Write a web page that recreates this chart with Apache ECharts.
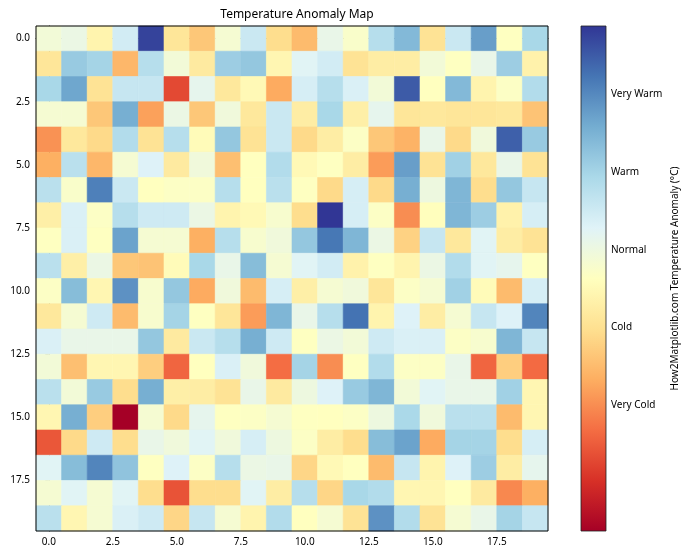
<!DOCTYPE html>
<html>
<head>
<meta charset="utf-8">
<script src="https://cdn.jsdelivr.net/npm/echarts@6/dist/echarts.min.js"></script>
<style>html,body{margin:0;padding:0;background:#fff}#c{width:700px;height:560px}</style>
</head>
<body>
<div id="c"></div>
<script>
// 20x20 anomaly grid, row 0 at top
const row0  = [-0.10, 0.05,-0.60, 0.45, 2.75,-0.90,-1.35,-0.15, 0.55,-1.05, -1.50, 0.10,-0.25, 0.80, 1.40,-0.95, 0.55, 1.75,-0.35, 0.95];
const row1  = [-0.90, 1.15, 1.00,-1.55, 0.80,-0.10,-0.80, 1.10, 1.20,-0.55,  0.25, 0.45,-0.95,-0.75,-0.75,-0.10,-0.35, 0.10, 1.10,-0.65];
const row2  = [ 0.95, 1.65,-0.95, 0.60, 0.60,-2.70, 0.15,-0.85,-0.50,-1.70,  0.40, 0.80, 0.35,-0.10, 2.50,-0.37, 1.40,-0.60,-0.30, 0.85];
const row3  = [-0.15,-0.15,-1.35, 1.55,-1.80, 0.05,-1.35,-0.05,-0.85, 0.55, -0.75, 0.95,-0.70, 0.15,-0.90,-0.85,-0.90,-0.90,-0.85,-1.40];
const row4  = [-1.95,-0.85,-1.10, 0.85,-0.95, 0.80,-0.45, 1.20,-0.95, 0.55, -1.10,-0.75,-0.30,-1.35,-1.60, 0.10,-1.10,-0.05, 2.45, 1.15];
const row5  = [-1.65, 0.75,-1.55,-0.15, 0.30,-0.80,-0.05,-1.45,-0.37, 0.85, -0.50,-0.35,-0.75,-1.85, 1.75,-0.95, 1.05,-0.85, 0.10,-0.95];
const row6  = [ 0.75,-0.25, 2.10, 0.55,-0.37,-0.30,-0.30, 0.80,-0.37, 0.75, -0.35,-1.10, 0.40,-1.10, 1.55, 0.00, 1.45,-1.05, 1.20, 0.60];
const row7  = [-0.70, 0.35,-0.30, 0.80, 0.50, 0.50, 0.05,-0.60,-0.50,-0.20, -1.05, 2.88, 0.40,-0.30,-2.00,-0.40, 1.45, 1.10,-0.65, 0.40];
const row8  = [-0.35, 0.35,-0.35, 1.70,-0.15,-0.15,-1.65, 0.80,-0.20,-0.05,  1.20, 2.20, 1.45, 0.05,-1.20, 0.60,-0.85, 0.25,-0.75,-0.95];
const row9  = [ 0.75,-0.70, 0.05,-1.35,-1.40,-0.45, 0.95, 0.10, 1.35,-0.15,  0.25, 0.45,-0.65,-0.35,-0.60, 0.05, 0.85, 0.25, 0.15,-0.35];
const row10 = [-0.30, 1.35,-0.55, 1.90,-0.20, 1.20,-1.70,-0.05,-1.50, 0.40, -0.70,-0.15,-0.05,-0.90,-0.30,-0.15, 1.05,-0.45,-1.50, 0.40];
const row11 = [-0.85,-0.15, 0.50,-1.50,-0.20, 1.00,-0.35,-0.90,-1.85, 1.45,  0.10, 0.80, 2.25,-0.60, 0.30,-0.75,-0.15, 0.60, 0.30, 2.05];
const row12 = [ 0.35, 0.10, 0.10, 0.10, 1.20,-0.80, 0.55, 0.80, 1.55, 0.50, -0.35, 0.05,-0.10, 0.50, 0.35, 0.35,-0.30,-0.20, 1.45, 0.60];
const row13 = [-0.10,-1.45,-0.55,-0.55,-1.25,-2.40,-0.37, 0.35,-0.05,-2.32,  1.00,-2.00,-0.35, 0.85,-0.30,-0.30, 0.10,-2.40,-1.25,-2.35];
const row14 = [ 0.75,-0.10, 1.15,-1.05, 1.55,-0.70,-0.75,-0.95, 0.10,-0.80,  0.00, 0.30, 1.15, 1.45,-0.10, 0.25, 0.10, 0.10, 1.05,-0.55];
const row15 = [-0.55, 1.55,-1.25,-3.62,-0.15,-1.10, 0.15,-0.35,-0.30,-0.15, -0.35,-0.37,-0.30, 0.00, 0.93,-0.05, 0.75, 0.75,-1.50,-0.55];
const row16 = [-2.55,-1.10, 0.50,-1.05, 0.10,-0.05, 0.25,-0.05, 0.40, 0.00, -0.30,-0.75,-1.05, 1.35, 1.70,-1.70, 1.00, 1.00,-1.05, 0.40];
const row17 = [ 0.25, 1.35, 2.05, 1.25,-0.35, 0.30,-0.30, 0.80, 0.05, 0.10, -1.15,-0.50,-0.37,-1.50, 0.60,-0.60, 0.30, 1.10,-0.75, 0.15];
const row18 = [-0.15, 0.25,-0.15, 0.25,-1.05,-2.60,-1.05,-1.05, 0.25,-0.75,  0.80,-1.15, 0.95, 0.85,-0.55,-0.55,-0.37,-0.80,-2.05,-1.65];
const row19 = [ 0.75,-0.55,-0.15, 0.35, 0.50,-1.15, 0.60,-0.15,-0.60, 0.85, -0.37,-0.15,-0.95, 1.90, 0.85,-0.95,-0.15, 0.10, 1.00, 0.60];
const ROWS = [row0,row1,row2,row3,row4,row5,row6,row7,row8,row9,row10,row11,row12,row13,row14,row15,row16,row17,row18,row19];

const AXIS_TICKS = [0, 2.5, 5, 7.5, 10, 12.5, 15, 17.5];
const CB_TICKS = [-2, -1, 0, 1, 2];
const CB_LABELS = ['Very Cold', 'Cold', 'Normal', 'Warm', 'Very Warm'];
const VMIN = -3.62, VMAX = 2.88;
const TITLE = 'Temperature Anomaly Map';
const CB_TITLE = 'How2Matplotlib.com Temperature Anomaly (°C)';

const RDYLBU = ['#a50026','#d73027','#f46d43','#fdae61','#fee090','#ffffbf','#e0f3f8','#abd9e9','#74add1','#4575b4','#313695'];

const cells = [];
ROWS.forEach((r, y) => r.forEach((v, x) => cells.push([x, y, v])));

const FONT = 'Noto Sans';
const chart = echarts.init(document.getElementById('c'), null, {renderer: 'canvas'});

const axisCommon = {
  type: 'value', min: -0.5, max: 19.5,
  splitLine: {show: false},
  axisLine: {show: true, lineStyle: {color: '#000', width: 1}},
  axisTick: {show: true, length: 3.5, lineStyle: {color: '#000', width: 0.8}, customValues: AXIS_TICKS},
  axisLabel: {color: '#000', fontSize: 10, fontFamily: FONT, margin: 6, customValues: AXIS_TICKS,
              formatter: v => Number(v).toFixed(1)}
};

chart.setOption({
  animation: false,
  backgroundColor: '#fff',
  title: {
    text: TITLE, left: 292, top: 4, textAlign: 'center',
    textStyle: {fontSize: 12, fontWeight: 'normal', color: '#000', fontFamily: FONT}
  },
  grid: [
    {left: 36, top: 26, width: 512, height: 505, show: true, z: 10, backgroundColor: 'transparent', borderColor: '#000', borderWidth: 1},
    {left: 581, top: 26, width: 25, height: 505, show: false}
  ],
  xAxis: [
    Object.assign({}, axisCommon, {gridIndex: 0, position: 'bottom'}),
    {type: 'value', gridIndex: 1, min: 0, max: 1, show: false}
  ],
  yAxis: [
    Object.assign({}, axisCommon, {gridIndex: 0, inverse: true, position: 'left'}),
    {
      type: 'value', gridIndex: 1, min: VMIN, max: VMAX, position: 'right',
      splitLine: {show: false},
      axisLine: {show: false},
      axisTick: {show: true, length: 3.5, lineStyle: {color: '#000', width: 0.8}, customValues: CB_TICKS},
      axisLabel: {color: '#000', fontSize: 10, fontFamily: FONT, margin: 5, customValues: CB_TICKS,
                  formatter: v => CB_LABELS[CB_TICKS.indexOf(Math.round(v))] || ''},
      name: CB_TITLE, nameLocation: 'middle', nameRotate: 90, nameGap: 64,
      nameTextStyle: {fontSize: 10, color: '#000', fontFamily: FONT}
    }
  ],
  visualMap: {
    show: false, type: 'continuous', min: VMIN, max: VMAX, dimension: 2, seriesIndex: 0,
    inRange: {color: RDYLBU}
  },
  series: [
    {
      type: 'custom', xAxisIndex: 0, yAxisIndex: 0, data: cells,
      encode: {x: 0, y: 1},
      renderItem: (params, api) => {
        const x = api.value(0), y = api.value(1);
        const p0 = api.coord([x - 0.5, y - 0.5]);
        const p1 = api.coord([x + 0.5, y + 0.5]);
        const c = api.visual('color');
        return {
          type: 'rect',
          shape: {x: Math.min(p0[0], p1[0]), y: Math.min(p0[1], p1[1]),
                  width: Math.abs(p1[0] - p0[0]), height: Math.abs(p1[1] - p0[1])},
          style: {fill: c, stroke: c, lineWidth: 0.6}
        };
      }
    },
    {
      type: 'custom', xAxisIndex: 1, yAxisIndex: 1, data: [[0, VMIN, 1, VMAX]],
      encode: {x: [0, 2], y: [1, 3]},
      renderItem: (params, api) => {
        const p0 = api.coord([api.value(0), api.value(3)]);
        const p1 = api.coord([api.value(2), api.value(1)]);
        const stops = RDYLBU.slice().reverse().map((col, i) => ({offset: i / (RDYLBU.length - 1), color: col}));
        return {
          type: 'rect',
          shape: {x: p0[0], y: p0[1], width: p1[0] - p0[0], height: p1[1] - p0[1]},
          style: {fill: new echarts.graphic.LinearGradient(0, 0, 0, 1, stops), stroke: '#222', lineWidth: 0.8}
        };
      }
    }
  ]
});
</script>
</body>
</html>
